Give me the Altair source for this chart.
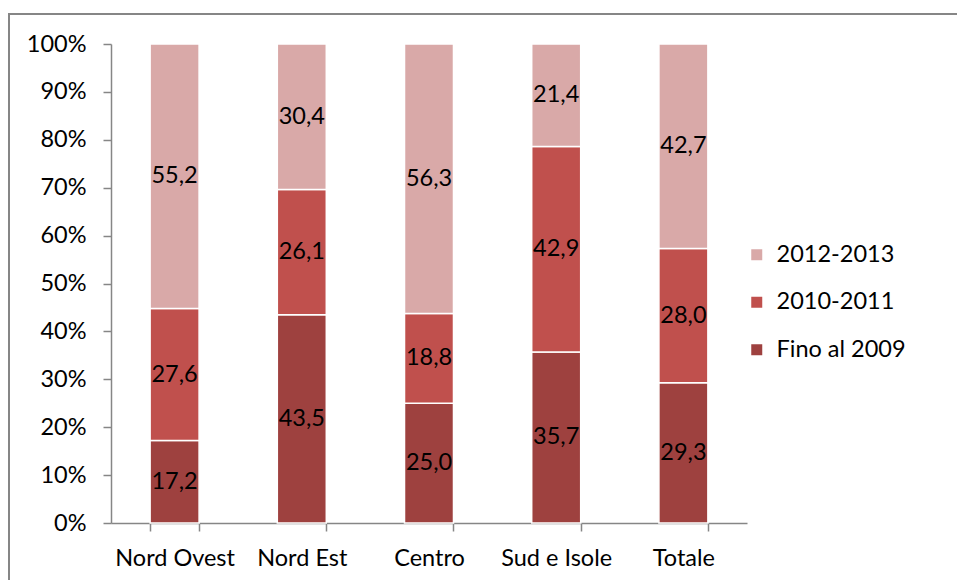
import altair as alt
import pandas as pd

categories = ["Nord Ovest", "Nord Est", "Centro", "Sud e Isole", "Totale"]
series = ["Fino al 2009", "2010-2011", "2012-2013"]
fino_2009 = [17.2, 43.5, 25.0, 35.7, 29.3]
y2010_2011 = [27.6, 26.1, 18.8, 42.9, 28.0]
y2012_2013 = [55.2, 30.4, 56.3, 21.4, 42.7]

colors = ["#9E413F", "#C0504D", "#D9A9A8"]
legend_order = ["2012-2013", "2010-2011", "Fino al 2009"]

rows = []
for s_i, (s, vals) in enumerate(zip(series, [fino_2009, y2010_2011, y2012_2013])):
    for c, v in zip(categories, vals):
        rows.append({"cat": c, "serie": s, "val": v, "ord": s_i,
                     "label": f"{v:.1f}".replace(".", ",")})
df = pd.DataFrame(rows)

FONT = "Lato"
FS = 23.5
GRAY = "#868686"

base = alt.Chart(df).transform_stack(
    stack="val", groupby=["cat"], as_=["y0", "y1"],
    sort=[alt.SortField("ord", order="ascending")], offset="normalize"
).transform_calculate(mid="(datum.y0 + datum.y1) / 2")

xenc = alt.X("cat:N", sort=categories, title=None,
             scale=alt.Scale(paddingInner=0.615, paddingOuter=0.3075),
             axis=alt.Axis(labelAngle=0, tickBand="extent", domainColor=GRAY,
                           tickColor=GRAY, tickSize=8, domainWidth=1.5, tickWidth=1.5,
                           labelFont=FONT, labelFontSize=FS, labelColor="black",
                           labelFontWeight="normal", labelPadding=15))

yscale = alt.Scale(domain=[0, 1], nice=False)

bars = base.mark_bar(stroke="white", strokeWidth=1.5).encode(
    x=xenc,
    y=alt.Y("y0:Q", scale=yscale, title=None,
            axis=alt.Axis(format=".0%", values=[i / 10 for i in range(11)],
                          grid=False, domainColor=GRAY, tickColor=GRAY,
                          tickSize=8, domainWidth=1.5, tickWidth=1.5,
                          labelFont=FONT, labelFontSize=FS, labelColor="black",
                          labelFontWeight="normal", labelPadding=17)),
    y2="y1:Q",
    color=alt.Color("serie:N", scale=alt.Scale(domain=legend_order,
                                               range=[colors[2], colors[1], colors[0]]),
                    legend=alt.Legend(title=None, orient="none", legendX=634, legendY=199,
                                      symbolType="square", symbolSize=121,
                                      symbolStrokeWidth=0,
                                      labelFont=FONT, labelFontSize=FS, labelColor="black",
                                      labelFontWeight="normal",
                                      labelOffset=8, rowPadding=22.5)),
)

texts = base.mark_text(font=FONT, fontSize=FS, color="black", fontWeight="normal").encode(
    x=alt.X("cat:N", sort=categories),
    y=alt.Y("mid:Q", scale=yscale),
    text="label:N",
)

border = alt.Chart(pd.DataFrame({"a": [0]})).mark_rect(
    fill=None, stroke=GRAY, strokeWidth=2
).encode(x=alt.value(-102), x2=alt.value(900), y=alt.value(-30), y2=alt.value(600))

chart = alt.layer(border, bars, texts).properties(
    width=636, height=479,
    padding={"left": 111, "top": 44, "right": 210, "bottom": 57},
    autosize=alt.AutoSizeParams(type="none"),
    background="white",
).configure_view(stroke=None)

chart.save("out.html", embed_options={"renderer": "svg", "actions": False})
